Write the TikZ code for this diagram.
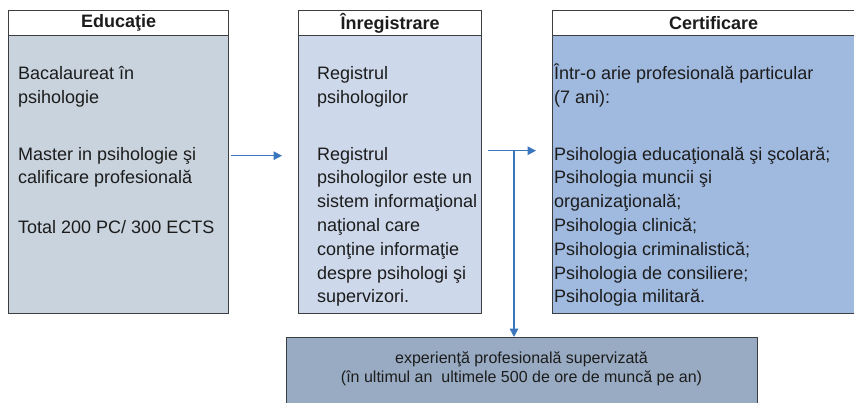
\documentclass[tikz,border=0pt]{standalone}
\usepackage{fontspec}
\setmainfont{Liberation Sans}
\usetikzlibrary{arrows.meta}

\definecolor{eduFill}{RGB}{200,211,222}
\definecolor{regFill}{RGB}{205,216,234}
\definecolor{certFill}{RGB}{160,185,222}
\definecolor{expFill}{RGB}{152,171,194}
\definecolor{frameGray}{RGB}{60,62,66}
\definecolor{flowBlue}{RGB}{58,118,190}
\definecolor{ink}{RGB}{28,28,28}

\tikzset{
  panel/.style={draw=frameGray, line width=1.4pt, rectangle, inner sep=0pt, anchor=north west},
  headbox/.style={panel, fill=white, text=ink, font=\fontsize{18}{20}\selectfont\bfseries},
  % the first line carries a strut, so the north edge sits 0.7 baselineskip above its baseline
  bodytext/.style={anchor=north west, inner sep=0pt, align=left, text=ink,
    font=\fontsize{18}{23.8}\selectfont},
  flow/.style={draw=flowBlue, line width=1.5pt},
  arr/.style={flow, -{Triangle[width=8.5pt,length=8.5pt]}}
}

\begin{document}
\begin{tikzpicture}[x=1pt, y=-1pt]
\useasboundingbox (0,0) rectangle (854,402);

% three main columns
\node[panel, fill=eduFill, minimum width=220pt, minimum height=303pt] (edu) at (8,10) {};
\node[panel, fill=regFill, minimum width=183pt, minimum height=303pt] (reg) at (298,10) {};
\node[panel, fill=certFill, minimum width=322pt, minimum height=303pt] (cert) at (552,10) {};

% column titles
\node[headbox, minimum width=220pt, minimum height=25pt] (eduh) at (8,10) {Educaţie};
\node[headbox, minimum width=183pt, minimum height=25pt] (regh) at (298,10) {Înregistrare};
\node[headbox, minimum width=322pt, minimum height=25pt] (certh) at (552,10) {Certificare};

% column contents (first baseline at y = 79)
\node[bodytext] (edut) at (18,62.34) {\strut Bacalaureat în\\psihologie\\[33.2pt]
  Master in psihologie şi\\calificare profesională\\[26.2pt]
  Total 200 PC/ 300 ECTS};
\node[bodytext] (regt) at (317,62.34) {\strut Registrul\\psihologilor\\[33.2pt]
  Registrul\\psihologilor este un\\sistem informaţional\\naţional care\\conţine informaţie\\despre psihologi şi\\supervizori.};
\node[bodytext] (certt) at (554,62.34) {\strut Într-o arie profesională particular\\(7 ani):\\[33.2pt]
  Psihologia educaţională şi şcolară;\\Psihologia muncii şi\\organizaţională;\\Psihologia clinică;\\Psihologia criminalistică;\\Psihologia de consiliere;\\Psihologia militară.};

% supervised practice box
\node[panel, fill=expFill, minimum width=471pt, minimum height=80pt] (exp) at (286,337) {};
\node[anchor=north, inner sep=0pt, align=center, text=ink, font=\fontsize{16}{19.5}\selectfont]
  (expt) at (521.5,349.35) {\strut experienţă profesională supervizată\\(în ultimul an~ ultimele 500 de ore de muncă pe an)};

% connectors
\draw[arr, shorten <=2pt, shorten >=16pt] ([yshift=6.5pt]edu.east) -- ([yshift=6.5pt]reg.west);
\draw[arr, shorten <=6pt, shorten >=16pt] ([yshift=11.5pt]reg.east) -- ([yshift=11.5pt]cert.west);
\coordinate (split) at (514,150);
\draw[arr] (split) -- (split |- exp.north);
\end{tikzpicture}
\end{document}
